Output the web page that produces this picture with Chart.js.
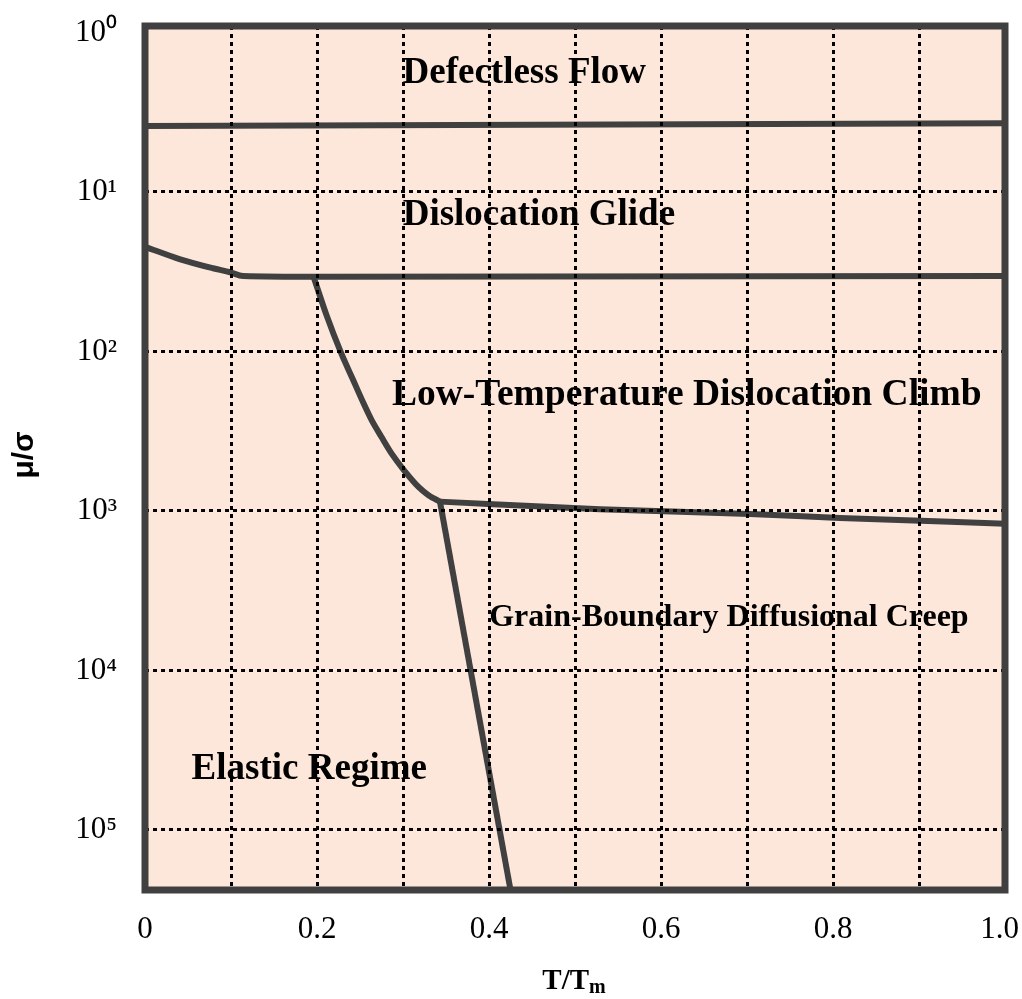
<!DOCTYPE html>
<html>
<head>
<meta charset="utf-8">
<script src="https://cdn.jsdelivr.net/npm/chart.js@4.4.1/dist/chart.umd.min.js"></script>
<style>
  html, body { margin: 0; padding: 0; background: #fff; }
  #wrap { width: 1022px; height: 999px; }
</style>
</head>
<body>
<div id="wrap"><canvas id="mapChart"></canvas></div>
<script>
// x = T/Tm, y = log10(mu/sigma), axis reversed so 10^0 sits at the top
const xTickValues = [0, 0.1, 0.2, 0.3, 0.4, 0.5, 0.6, 0.7, 0.8, 0.9, 1.0];
const xTickLabels = ['0', '', '0.2', '', '0.4', '', '0.6', '', '0.8', '', '1.0'];
const yTickValues = [0, 1, 2, 3, 4, 5];
const yTickLabels = ['10⁰', '10¹', '10²', '10³', '10⁴', '10⁵'];

// boundaries between regimes
const defectlessX = [0, 1.0];
const defectlessY = [0.587, 0.570];
const glideX = [0, 0.041, 0.079, 0.099, 0.114, 0.2, 1.0];
const glideY = [1.344, 1.423, 1.479, 1.504, 1.527, 1.532, 1.527];
const climbX = [0.196, 0.211, 0.228, 0.241, 0.254, 0.264, 0.275, 0.287, 0.301, 0.318, 0.330, 0.343];
const climbY = [1.532, 1.772, 2.010, 2.167, 2.324, 2.436, 2.537, 2.643, 2.744, 2.850, 2.903, 2.942];
const creepX = [0.343, 0.529, 0.703, 0.808, 1.0];
const creepY = [2.942, 2.99, 3.02, 3.044, 3.08];
const elasticX = [0.343, 0.425];
const elasticY = [2.942, 5.377];

const regionNames = ['Defectless Flow', 'Dislocation Glide', 'Low-Temperature Dislocation Climb',
  'Grain-Boundary Diffusional Creep', 'Elastic Regime'];

const serif = "'Liberation Serif', 'Times New Roman', serif";
const lineColor = '#404040';

function pts(xs, ys) {
  return xs.map((x, i) => ({ x: x, y: ys[i] }));
}

function boundary(xs, ys, mode, tension) {
  return {
    data: pts(xs, ys),
    showLine: true,
    borderColor: lineColor,
    borderWidth: 6,
    pointRadius: 0,
    borderJoinStyle: 'round',
    cubicInterpolationMode: mode,
    tension: tension
  };
}

const paperPlugin = {
  id: 'paper',
  beforeDraw(chart) {
    const a = chart.chartArea, c = chart.ctx;
    c.save();
    c.fillStyle = '#fce7da';
    c.fillRect(a.left, a.top, a.right - a.left, a.bottom - a.top);
    c.restore();
  }
};

// region names sit under the dotted grid, like in the original
const regionPlugin = {
  id: 'regions',
  afterDatasetsDraw(chart) {
    const c = chart.ctx, xs = chart.scales.x, ys = chart.scales.y;
    const spots = [
      [0.441, 0.317, 37], [0.458, 1.2075, 37], [0.630, 2.336, 37.5],
      [0.679, 3.72, 32], [0.191, 4.681, 37]
    ];
    c.save();
    c.fillStyle = '#000';
    c.textAlign = 'center';
    c.textBaseline = 'alphabetic';
    regionNames.forEach((name, i) => {
      const s = spots[i];
      c.font = 'bold ' + s[2] + 'px ' + serif;
      c.fillText(name, xs.getPixelForValue(s[0]), ys.getPixelForValue(s[1]));
    });
    c.restore();
  }
};

const framePlugin = {
  id: 'frame',
  afterDraw(chart) {
    const a = chart.chartArea, c = chart.ctx, xs = chart.scales.x;
    c.save();
    c.strokeStyle = lineColor;
    c.lineWidth = 7;
    c.strokeRect(a.left, a.top, a.right - a.left, a.bottom - a.top);

    // x tick labels (last one kept inside the page)
    c.fillStyle = '#000';
    c.font = '31px ' + serif;
    c.textAlign = 'center';
    c.textBaseline = 'middle';
    xTickValues.forEach((v, i) => {
      const txt = xTickLabels[i];
      if (!txt) return;
      const w = c.measureText(txt).width;
      const px = Math.min(xs.getPixelForValue(v), chart.width - 3 - w / 2);
      c.fillText(txt, px, 930);
    });

    // x title with subscript m
    c.textBaseline = 'alphabetic';
    c.textAlign = 'left';
    c.font = 'bold 29px ' + serif;
    const main = 'T/T';
    const w1 = c.measureText(main).width;
    c.font = 'bold 20px ' + serif;
    const w2 = c.measureText('m').width;
    const x0 = 574 - (w1 + w2) / 2;
    c.font = 'bold 29px ' + serif;
    c.fillText(main, x0, 989);
    c.font = 'bold 20px ' + serif;
    c.fillText('m', x0 + w1, 993);

    // y title
    c.translate(33, 455);
    c.rotate(-Math.PI / 2);
    c.textAlign = 'center';
    c.font = "bold 30px 'Liberation Sans', Arial, sans-serif";
    c.fillText('μ/σ', 0, 0);
    c.restore();
  }
};

const ctx = document.getElementById('mapChart').getContext('2d');
new Chart(ctx, {
  type: 'scatter',
  data: {
    datasets: [
      boundary(defectlessX, defectlessY, 'default', 0),
      boundary(glideX, glideY, 'monotone', 0),
      boundary(climbX, climbY, 'default', 0.3),
      boundary(creepX, creepY, 'monotone', 0),
      boundary(elasticX, elasticY, 'default', 0)
    ]
  },
  options: {
    responsive: true,
    maintainAspectRatio: false,
    animation: false,
    events: [],
    layout: { padding: { left: 0, right: 17, top: 26, bottom: 0 } },
    plugins: {
      legend: { display: false },
      tooltip: { enabled: false }
    },
    scales: {
      x: {
        type: 'linear',
        min: 0,
        max: 1,
        afterBuildTicks: s => { s.ticks = xTickValues.map(v => ({ value: v })); },
        afterFit: s => { s.height = 109; s.paddingLeft = 0; s.paddingRight = 0; },
        grid: {
          z: 1,
          drawTicks: false,
          lineWidth: 3,
          color: c => (c.tick && (c.tick.value === 0 || c.tick.value === 1)) ? 'rgba(0,0,0,0)' : '#000'
        },
        border: { display: false, dash: [4, 4] },
        ticks: { display: false }
      },
      y: {
        type: 'linear',
        reverse: true,
        min: -0.04,
        max: 5.377,
        afterBuildTicks: s => { s.ticks = yTickValues.map(v => ({ value: v })); },
        afterFit: s => { s.width = 145; s.paddingTop = 0; s.paddingBottom = 0; },
        grid: {
          z: 1,
          drawTicks: false,
          lineWidth: 3,
          color: c => (c.tick && c.tick.value === 0) ? 'rgba(0,0,0,0)' : '#000'
        },
        border: { display: false, dash: [4, 4] },
        ticks: {
          padding: 28,
          color: '#000',
          autoSkip: false,
          font: { family: serif, size: 31 },
          callback: (v, i) => yTickLabels[i]
        }
      }
    }
  },
  plugins: [paperPlugin, regionPlugin, framePlugin]
});
</script>
</body>
</html>
